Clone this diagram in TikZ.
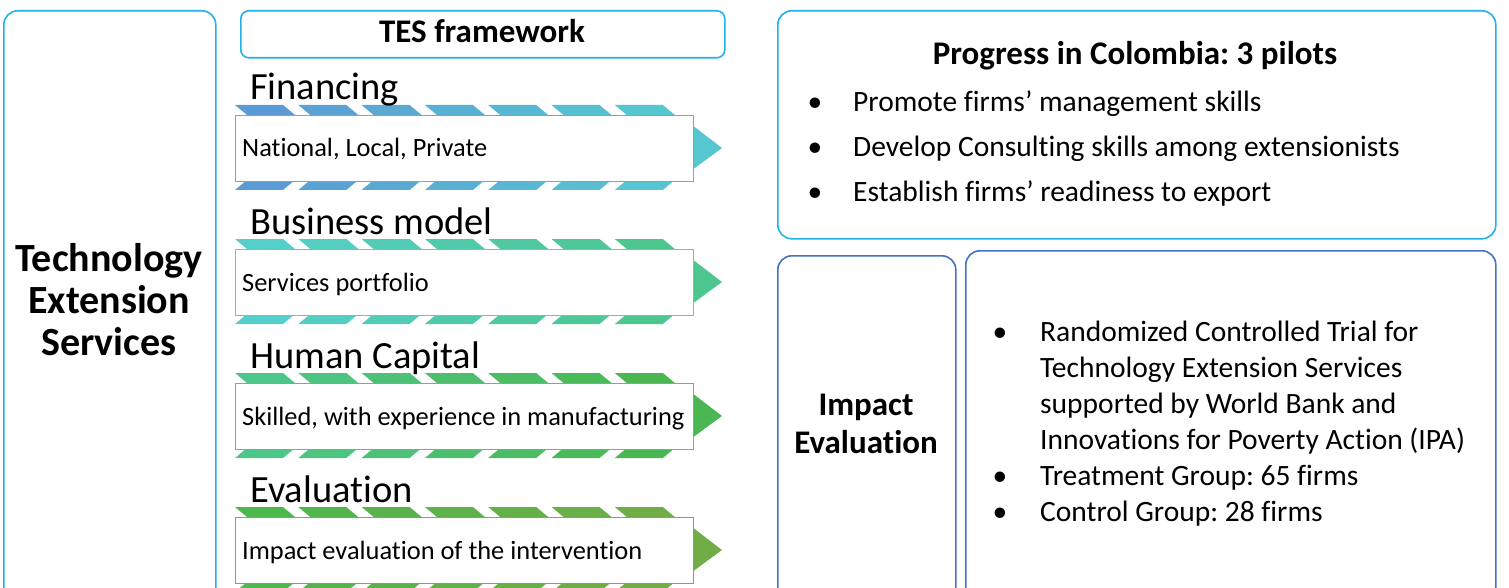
\documentclass[tikz,border=0pt]{standalone}
\usepackage{fontspec}
\setmainfont{Carlito}[Ligatures=NoCommon]
\frenchspacing
\usetikzlibrary{positioning}

\definecolor{cyanB}{HTML}{21B1EC}
\definecolor{blueB}{HTML}{4472C4}
\definecolor{aL}{HTML}{5B9BD5}
\definecolor{aR}{HTML}{56C6D0}
\definecolor{aD}{HTML}{6FA6DD}
\definecolor{bL}{HTML}{55CFCA}
\definecolor{bR}{HTML}{4DC68F}
\definecolor{bD}{HTML}{55CFC4}
\definecolor{cL}{HTML}{4DC689}
\definecolor{cR}{HTML}{4BB752}
\definecolor{cD}{HTML}{55C570}
\definecolor{dL}{HTML}{4DB84B}
\definecolor{dR}{HTML}{70AD47}
\definecolor{dD}{HTML}{74B051}

\begin{document}
\begin{tikzpicture}
        [x=1pt, y=-1pt,
        box/.style={draw=cyanB, line width=1.6pt, rounded corners=14pt, anchor=north west, inner sep=0pt},
        bbox/.style={box, draw=blueB},
        big/.style={font=\fontsize{33}{38}\selectfont\bfseries, align=center, inner sep=0pt},
        txt/.style={font=\fontsize{29.5}{36}\selectfont, anchor=base west, inner sep=0pt}]
        \useasboundingbox (0,0) rectangle (1509,588);

        % left column and frame title
        \node[box, minimum width=212pt, minimum height=600pt] (TES) at (3,10) {};
        \node[big, font=\fontsize{40}{42}\selectfont\bfseries] (TESt) at (109,300) {Technology\\Extension\\Services};
        \node[box, rounded corners=8pt, minimum width=484pt, minimum height=47pt] (F) at (240,10) {};
        \node[big, anchor=base] (Ft) at (482,43) {TES framework};

        % the four bands
        \foreach \t/\L/\R/\D/\head/\txt [count=\i] in {105/aL/aR/aD/Financing/{National, Local, Private},
                239/bL/bR/bD/Business model/Services portfolio,
                373/cL/cR/cD/Human Capital/{Skilled, with experience in manufacturing},
                507/dL/dR/dD/Evaluation/Impact evaluation of the intervention}{
            \foreach \k in {0,...,6}{
                \pgfmathsetmacro\x{235+63.3*\k}
                \pgfmathtruncatemacro\p{100*\k/6}
                \fill[\R!\p!\L] (\x,\t) -- ++(48,0) -- ++(51,42.5) -- ++(-51,42.5) -- ++(-48,0) -- ++(51,-42.5) -- cycle;
            }
            \fill[\R] (692,{\t+20}) -- (722,{\t+43}) -- (692,{\t+65}) -- cycle;
            \node[draw=\D, fill=white, line width=1.3pt, minimum width=458pt, minimum height=66pt, anchor=north west, inner sep=0pt] (B\i) at (235,{\t+10}) {};
            \node[anchor=base west, inner sep=0pt, font=\fontsize{38.5}{44}\selectfont] (H\i) at (250,{\t-5}) {\head};
            \node[anchor=base west, inner sep=0pt, font=\fontsize{26.4}{30}\selectfont] (T\i) at (242,{\t+52}) {\txt};
        }

        % progress box
        \node[box, minimum width=718pt, minimum height=228pt] (P) at (777,10) {};
        \node[big, anchor=base] (Pt) at (1135,65) {Progress in Colombia: 3 pilots};
        \foreach \y/\s [count=\i] in {112/Promote firms’ management skills,
                157/Develop Consulting skills among extensionists,
                202/Establish firms’ readiness to export}{
            \node[txt, anchor=base] (Pb\i) at (815,\y) {•};
            \node[txt] (Pl\i) at (853,\y) {\s};
        }

        % impact evaluation
        \node[bbox, minimum width=178pt, minimum height=345pt] (I) at (777,255) {};
        \node[big] (It) at (866,424) {Impact\\Evaluation};
        \node[bbox, minimum width=530pt, minimum height=350pt] (R) at (965,250) {};
        \foreach \y/\s [count=\i] in {341/Randomized Controlled Trial for,
                377/Technology Extension Services,
                413/supported by World Bank and,
                449/Innovations for Poverty Action (IPA),
                485/Treatment Group: 65 firms,
                521/Control Group: 28 firms}{
            \node[txt] (Rl\i) at (1040,\y) {\s};
        }
        \node[txt, anchor=base] (Rb1) at (1000,341) {•};
        \node[txt, anchor=base] (Rb2) at (1000,485) {•};
        \node[txt, anchor=base] (Rb3) at (1000,521) {•};

    \end{tikzpicture}
\end{document}
